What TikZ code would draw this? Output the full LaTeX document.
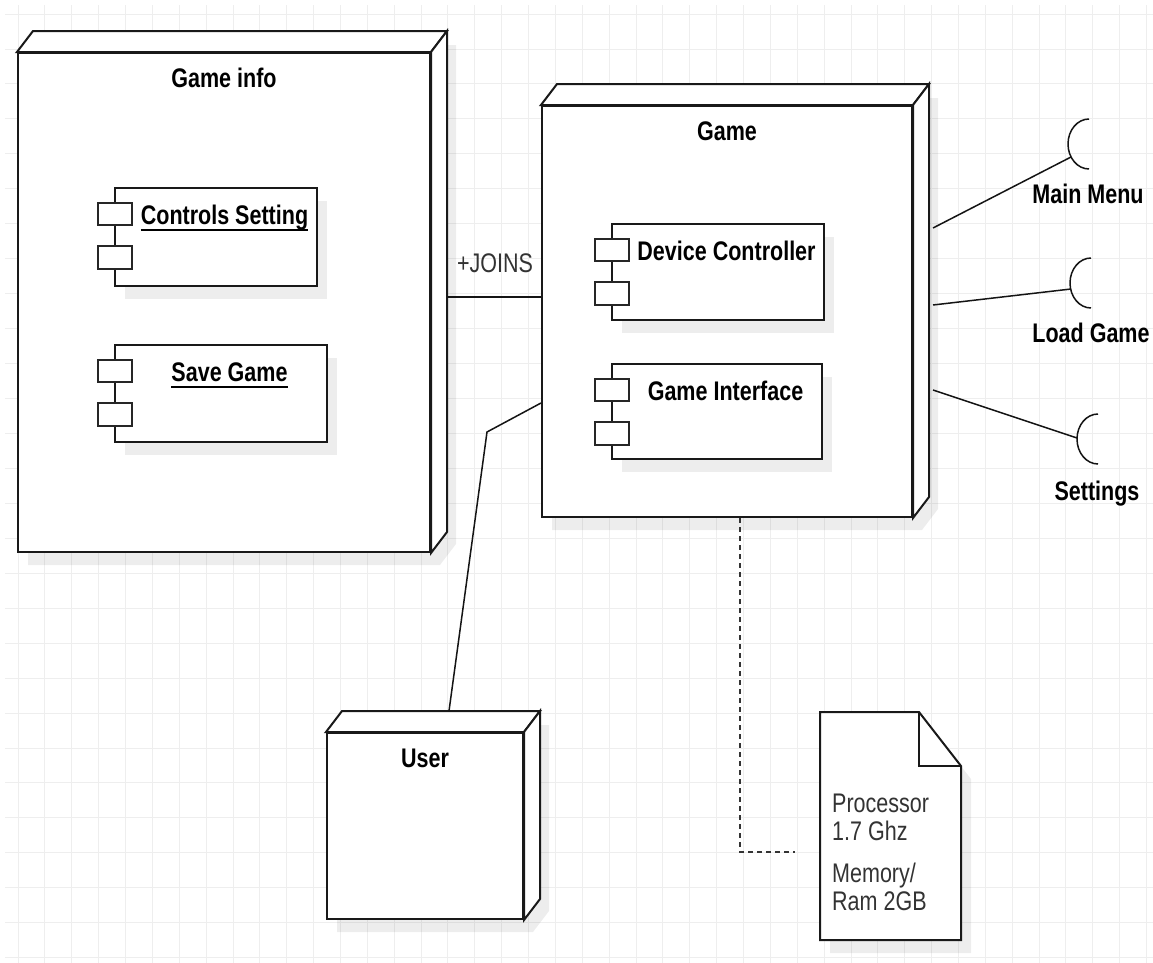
\documentclass[tikz,border=0pt]{standalone}
\usepackage{fontspec}
\setmainfont{Liberation Sans}[FakeStretch=0.8]
\usetikzlibrary{calc,fit}

% underlined label with a rule a fixed distance below the baseline
\newcommand\undertext[1]{\setbox0\hbox{#1}\rlap{\rule[-6.5bp]{\wd0}{1.5bp}}\box0}

\tikzset{
  outline/.style={draw=black!90, line width=2bp, line join=miter},
  face/.style={outline, fill=white},
  port/.style={draw=black!85, line width=1.6bp, fill=white},
  shade3d/.style={fill=black, fill opacity=0.07},
  gridline/.style={draw={rgb,255:red,238;green,238;blue,238}, line width=0.9bp},
  conn/.style={draw=black!92, line width=1.5bp},
  depline/.style={draw=black!80, line width=1.5bp, dash pattern=on 5bp off 4bp},
  title/.style={font=\fontsize{27}{32}\selectfont\bfseries, inner sep=0pt, anchor=base, text=black},
  plain/.style={font=\fontsize{27}{28}\selectfont, inner sep=0pt, text=black!80},
}

% 3D deployment node: name, x1, y1, x2, y2 (front face), title
\newcommand\DeployNode[6]{%
  \fill[shade3d] (#2+10,#3+13) -- (#2+26,#3-8) -- (#4+26,#3-8) -- (#4+26,#5-8) -- (#4+10,#5+13) -- (#2+10,#5+13) -- cycle;
  \node[face, fit={(#2,#3)(#4,#5)}, inner sep=0pt] (#1) {};
  \draw[face] (#1.north west) -- ++(16,-21) -- ($(#1.north east)+(16,-21)$) -- (#1.north east) -- cycle;
  \draw[face] (#1.north east) -- ++(16,-21) -- ($(#1.south east)+(16,-21)$) -- (#1.south east) -- cycle;
  \node[title] (#1-title) at ($(#1.north)+(0,35)$) {#6};
}

% UML component box with its two port rectangles: name, x1, y1, x2, y2, label
\newcommand\CompBox[6]{%
  \fill[shade3d] (#2+10,#3+13) rectangle (#4+10,#5+13);
  \node[face, fit={(#2,#3)(#4,#5)}, inner sep=0pt] (#1) {};
  \draw[port] (#2-17,#3+15) rectangle (#2+17,#3+37);
  \draw[port] (#2-17,#3+58) rectangle (#2+17,#3+81);
  \node[title] (#1-title) at ({(#2+#4)/2+8.5}, #3+36) {#6};
}

\begin{document}
\begin{tikzpicture}[x=1bp, y=-1bp]
  % canvas and grid
  \fill[white] (0,0) rectangle (1153,963);
  \useasboundingbox (0,0) rectangle (1153,963);
  \foreach \i in {0,...,42} \draw[gridline] (18+\i*26.87,5) -- (18+\i*26.87,963);
  \foreach \j in {0,...,27} \draw[gridline] (5,14+\j*34.95) -- (1153,14+\j*34.95);

  % deployment nodes
  \DeployNode{gameinfo}{18}{53}{430}{552}{Game info}
  \DeployNode{game}{542}{106}{912}{517}{Game}
  \DeployNode{user}{327}{733}{523}{919}{User}

  % components
  \CompBox{controls}{115}{188}{317}{286}{\undertext{Controls Setting}}
  \CompBox{savegame}{115}{345}{327}{442}{\undertext{Save Game}}
  \CompBox{device}{612}{224}{824}{320}{Device Controller}
  \CompBox{interface}{612}{364}{822}{459}{Game Interface}

  % hardware note
  \fill[shade3d] (830,725) -- (929,725) -- (971,779) -- (971,953) -- (830,953) -- cycle;
  \draw[face] (820,712) -- (919,712) -- (961,766) -- (961,940) -- (820,940) -- cycle;
  \draw[outline] (919,712) -- (919,766) -- (961,766);
  \node[plain, align=left, anchor=north west] (specs) at (832,794)
    {Processor\\1.7 Ghz\\[14bp]Memory/\\Ram 2GB};

  % association between the two nodes
  \draw[conn] ($(gameinfo.north east)+(16,245)$) -- ($(game.north west)+(0,192)$);
  \node[plain, anchor=base] (joins) at (495,272) {+JOINS};

  % user link
  \coordinate (userbend) at (487,432);
  \draw[conn] ($(game.north west)+(0,298)$) -- (userbend) -- ($(user.north west)+(123,-21)$);

  % deployment dependency towards the note
  \coordinate (specend) at (795,852);
  \draw[depline] ([xshift=199bp]game.south west) |- (specend);

  % required interfaces
  \coordinate (mainmenu) at (1089,144);
  \coordinate (loadgame) at (1091,283);
  \coordinate (settings) at (1098,439);
  \coordinate (mainmenu-end) at (1071,157);
  \coordinate (loadgame-end) at (1071,289);
  \coordinate (settings-end) at (1077,438);
  \foreach \c in {mainmenu,loadgame,settings}
    \draw[conn] ($(\c)+(0,25)$) arc[start angle=90, end angle=270, x radius=21, y radius=25];
  \draw[conn] ($(game.north east)+(20,123)$) -- (mainmenu-end);
  \draw[conn] ($(game.north east)+(20,200)$) -- (loadgame-end);
  \draw[conn] ($(game.north east)+(20,285)$) -- (settings-end);
  \node[title] (mainmenu-label) at (1088,203) {Main Menu};
  \node[title] (loadgame-label) at (1091,342) {Load Game};
  \node[title] (settings-label) at (1097,500) {Settings};
\end{tikzpicture}
\end{document}
